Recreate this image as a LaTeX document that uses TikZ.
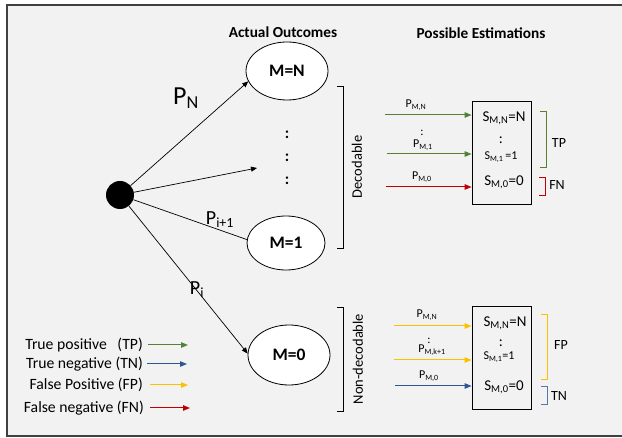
\documentclass[tikz,border=0pt]{standalone}
\usepackage{fontspec}
\setmainfont{Carlito}
\usepackage{xcolor}
\usetikzlibrary{arrows.meta,positioning,shapes.geometric}
\definecolor{tpgreen}{HTML}{548235}
\definecolor{tnblue}{HTML}{2F5597}
\definecolor{fpyellow}{HTML}{FFC000}
\definecolor{fnred}{HTML}{C00000}
\definecolor{bggray}{HTML}{F2F2F2}
\newcommand{\fsz}[1]{\fontsize{#1}{#1}\selectfont}

\begin{document}
\begin{tikzpicture}[x=1pt,y=-1pt,
    every node/.style={inner sep=0pt},
    outcome/.style={ellipse,draw,fill=white,line width=0.8pt,font=\fsz{17.5}\bfseries},
    estbox/.style={draw,line width=0.8pt,minimum width=59pt,minimum height=103pt},
    flow/.style={-{Triangle[length=6pt,width=5pt]},line width=0.7pt},
    cflow/.style={-{Triangle[length=7pt,width=5.5pt]},line width=1pt},
    bigp/.style={font=\fsz{26}},
    prob/.style={font=\fsz{12}},
    est/.style={font=\fsz{15}},
    hdr/.style={font=\fsz{15.3}\bfseries},
    legend/.style={font=\fsz{15.7},anchor=east},
    brack/.style={line width=0.8pt}]
    \useasboundingbox (0,0) rectangle (622,438);
    \draw[fill=bggray,draw=black!75,line width=1.2pt] (7,5) rectangle (640,436);

    % Headers
    \node[hdr] (hdrA) at (283,32) {Actual Outcomes};
    \node[hdr] (hdrE) at (481,33) {Possible Estimations};

    % Root and outcomes
    \node[circle,fill=black,minimum size=28pt] (root) at (120,195) {};
    \node[outcome,minimum width=82pt,minimum height=58pt] (mN) at (287,71) {M=N};
    \node[outcome,minimum width=78pt,minimum height=54pt] (m1) at (286,243) {M=1};
    \node[outcome,minimum width=82pt,minimum height=60pt] (m0) at (289,355) {M=0};
    \node[font=\fsz{16}\bfseries,align=center] (vdots) at (287,158)
        {:\\[7pt]:\\[7pt]:};
    \coordinate (dotsend) at (257,168);

    \draw[flow] (root) -- (mN.195);
    \draw[flow] (root) -- (dotsend);
    \draw[line width=0.7pt] (root) -- (m1.175);
    \draw[flow] (root) -- (m0.178);

    \node[bigp] (pN) at (186,98) {P\textsubscript{N}};
    \node[font=\fsz{20}] (pi1) at (220,220) {P\textsubscript{i+1}};
    \node[font=\fsz{20}] (pi) at (197,290) {P\textsubscript{i}};

    % Decodable / non-decodable brackets
    \draw[brack] (337,86) -- (343,86) -- (343,248) -- (337,248);
    \node[font=\fsz{14.5},rotate=90] (dec) at (357,167) {Decodable};
    \draw[brack] (337,307) -- (343,307) -- (343,411) -- (337,411);
    \node[font=\fsz{14.5},rotate=90] (ndec) at (358,359) {Non-decodable};

    % Estimations, decodable
    \node[estbox] (boxD) at (501.5,152.5) {};
    \node[est] (dSN) at (504,118) {S\textsubscript{M,N}=N};
    \node[est] (dcol) at (501,140) {:};
    \node[font=\fsz{12}] (dS1) at (501,157) {S\textsubscript{M,1}\,=1};
    \node[est] (dS0) at (504,182) {S\textsubscript{M,0}=0};

    \coordinate (da) at (385,115);
    \coordinate (db) at (387,154);
    \coordinate (dc) at (386,187);
    \draw[cflow,tpgreen] (da) -- (da -| boxD.west);
    \draw[cflow,tpgreen] (db) -- (db -| boxD.west);
    \draw[cflow,fnred] (dc) -- (dc -| boxD.west);
    \node[prob] (dpN) at (416,105) {P\textsubscript{M,N}};
    \node[prob] (dpcol) at (422,133) {:};
    \node[prob] (dp1) at (423,145) {P\textsubscript{M,1}};
    \node[prob] (dp0) at (422,177) {P\textsubscript{M,0}};

    \draw[brack,tpgreen] (540,111) -- (546,111) -- (546,167) -- (540,167);
    \node[font=\fsz{14}] (tp) at (559,143) {TP};
    \draw[brack,fnred] (539,177) -- (545,177) -- (545,195) -- (539,195);
    \node[font=\fsz{14}] (fn) at (557,185) {FN};

    % Estimations, non-decodable
    \node[estbox] (boxN) at (501.5,357.5) {};
    \node[est] (nSN) at (505,323) {S\textsubscript{M,N}=N};
    \node[est] (ncol) at (501,343) {:};
    \node[font=\fsz{12}] (nS1) at (499,357) {S\textsubscript{M,1}=1};
    \node[est] (nS0) at (504,387) {S\textsubscript{M,0}=0};

    \coordinate (na) at (394,326);
    \coordinate (nb) at (394,360);
    \coordinate (nc) at (395,386);
    \draw[cflow,fpyellow] (na) -- (na -| boxN.west);
    \draw[cflow,fpyellow] (nb) -- (nb -| boxN.west);
    \draw[cflow,tnblue] (nc) -- (nc -| boxN.west);
    \node[prob] (npN) at (427,315) {P\textsubscript{M,N}};
    \node[prob] (npcol) at (429,341) {:};
    \node[prob] (npk) at (432,350) {P\textsubscript{M,k+1}};
    \node[prob] (np0) at (429,376) {P\textsubscript{M,0}};

    \draw[brack,fpyellow] (541,314) -- (547,314) -- (547,379) -- (541,379);
    \node[font=\fsz{14}] (fp) at (561,345) {FP};
    \draw[brack,tnblue!80] (541,386) -- (547,386) -- (547,404) -- (541,404);
    \node[font=\fsz{14}] (tn) at (559,396) {TN};

    % Legend
    \node[legend] (lgTP) at (143,345) {True positive\ \ \ (TP)};
    \node[legend] (lgTN) at (143,364) {True negative (TN)};
    \node[legend] (lgFP) at (143,385) {False Positive (FP)};
    \node[legend] (lgFN) at (144,408) {False negative (FN)};
    \draw[cflow,tpgreen] ([xshift=5pt]lgTP.east) -- ++(40,0);
    \draw[cflow,tnblue] ([xshift=4pt]lgTN.east) -- ++(40,0);
    \draw[cflow,fpyellow] ([xshift=7pt]lgFP.east) -- ++(38,0);
    \draw[cflow,fnred] ([xshift=6pt]lgFN.east) -- ++(40,0);
\end{tikzpicture}
\end{document}
